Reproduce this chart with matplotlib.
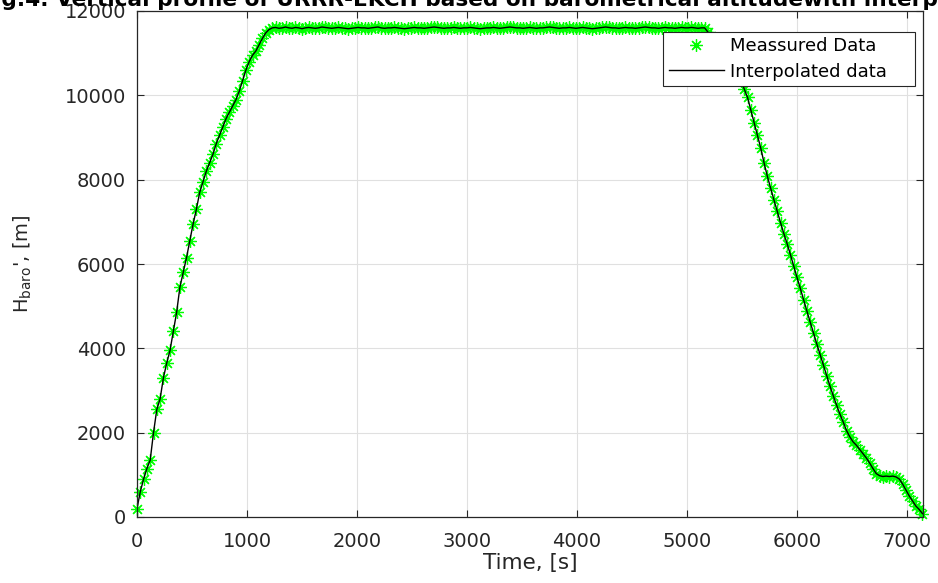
import numpy as np
import matplotlib
matplotlib.use("Agg")
import matplotlib.pyplot as plt

plt.rcParams["font.family"] = ["DejaVu Sans"]
plt.rcParams["mathtext.fontset"] = "dejavusans"

# measured samples every 30 s
time_s = np.arange(0, 7141, 30)

climb_h = [
    200, 600, 900, 1150, 1350, 2000, 2550, 2800, 3300, 3650,
    3950, 4400, 4850, 5450, 5800, 6150, 6550, 6950, 7300, 7700,
    7950, 8200, 8400, 8600, 8850, 9050, 9250, 9450, 9600, 9750,
    9900, 10100, 10350, 10600, 10800, 10950, 11050, 11200, 11350, 11480,
    11560, 11600,
]
cruise_h = [
    11610, 11590, 11600, 11620, 11600, 11590, 11610, 11600, 11580, 11600,
    11610, 11600, 11590, 11600, 11620, 11610, 11600, 11590, 11600, 11610,
    11600, 11590, 11580, 11590, 11600, 11610, 11600, 11600, 11590, 11600,
    11610, 11620, 11600, 11590, 11600, 11600, 11610, 11600, 11590, 11580,
    11590, 11600, 11610, 11600, 11600, 11590, 11600, 11610, 11620, 11610,
    11600, 11590, 11600, 11600, 11610, 11600, 11590, 11600, 11600, 11610,
    11600, 11590, 11580, 11590, 11600, 11600, 11610, 11600, 11590, 11600,
    11610, 11620, 11610, 11600, 11600, 11590, 11600, 11610, 11600, 11590,
    11600, 11600, 11610, 11620, 11610, 11600, 11590, 11600, 11600, 11610,
    11600, 11590, 11600, 11610, 11600, 11590, 11580, 11590, 11600, 11610,
    11620, 11610, 11600, 11600, 11590, 11600, 11610, 11600, 11600, 11590,
    11600, 11610, 11620, 11610, 11600, 11600, 11590, 11600, 11610, 11600,
    11600, 11590, 11600, 11610, 11600, 11600, 11610, 11600, 11590, 11600,
    11600,
]
descent_h = [
    11500, 11400, 11300, 11200, 11080, 10960, 10850, 10730, 10600, 10480,
    10350, 10150, 9950, 9650, 9350, 9050, 8750, 8400, 8080, 7800,
    7520, 7250, 6980, 6720, 6480, 6220, 5950, 5680, 5420, 5150,
    4880, 4620, 4360, 4100, 3850, 3600, 3350, 3100, 2870, 2650,
    2440, 2250, 2050, 1900, 1780, 1700, 1600, 1500, 1400, 1280,
    1150, 1030, 980, 960, 970, 960, 970, 950, 900, 780,
    640, 500, 380, 260, 180, 80,
]
h_baro = np.array(climb_h + cruise_h + descent_h)

x_ticks = [0, 1000, 2000, 3000, 4000, 5000, 6000, 7000]
y_ticks = [0, 2000, 4000, 6000, 8000, 10000, 12000]

W, H = 938, 583
fig = plt.figure(figsize=(W / 100, H / 100), dpi=100)
ax = fig.add_axes([137 / W, (H - 517) / H, (923 - 137) / W, (517 - 11) / H])

dark = (0.15, 0.15, 0.15)
star = (8, 2, 0)  # asterisk, like the MATLAB '*'

ax.plot(time_s, h_baro, linestyle="none", marker=star, color=(0, 1, 0),
        markersize=9, markeredgewidth=0.9, label="Meassured Data    ", clip_on=False)
ax.plot(time_s, h_baro, color="black", linewidth=1.0, label="Interpolated data    ")

ax.set_xlim(0, 7145)
ax.set_ylim(0, 12000)
ax.set_xticks(x_ticks)
ax.set_yticks(y_ticks)
ax.tick_params(direction="in", length=5, width=0.8, top=True, right=True,
               labelsize=14, colors=dark, labelcolor=dark)
ax.tick_params(axis="y", pad=8)
ax.tick_params(axis="x", pad=11)
for sp in ax.spines.values():
    sp.set_color(dark)
    sp.set_linewidth(0.9)
ax.grid(True, color=(0.88, 0.88, 0.88), linewidth=0.8)
ax.set_axisbelow(True)

ax.set_xlabel("Time, [s]", fontsize=15.5, color=dark, labelpad=1)
ax.set_ylabel(r"H$_{\mathregular{baro}}$', [m]", fontsize=14, color=dark, labelpad=22)

leg = ax.legend(loc="upper right", bbox_to_anchor=(1 - 8 / 786, 1 - 21 / 506),
                fontsize=13, frameon=True, fancybox=False, framealpha=1,
                edgecolor=dark, borderpad=0.3, handlelength=3.05,
                labelspacing=0.4, borderaxespad=0, handletextpad=0.33)
leg.get_frame().set_linewidth(0.8)

fig.text(-21 / W, 1 - 6 / H,
         "Fig.4. Vertical profile of URRR-EKCH based on barometrical altitudewith interpolation",
         fontsize=15.6, fontweight="bold", ha="left", va="baseline")

fig.savefig("out.png", dpi=100)
